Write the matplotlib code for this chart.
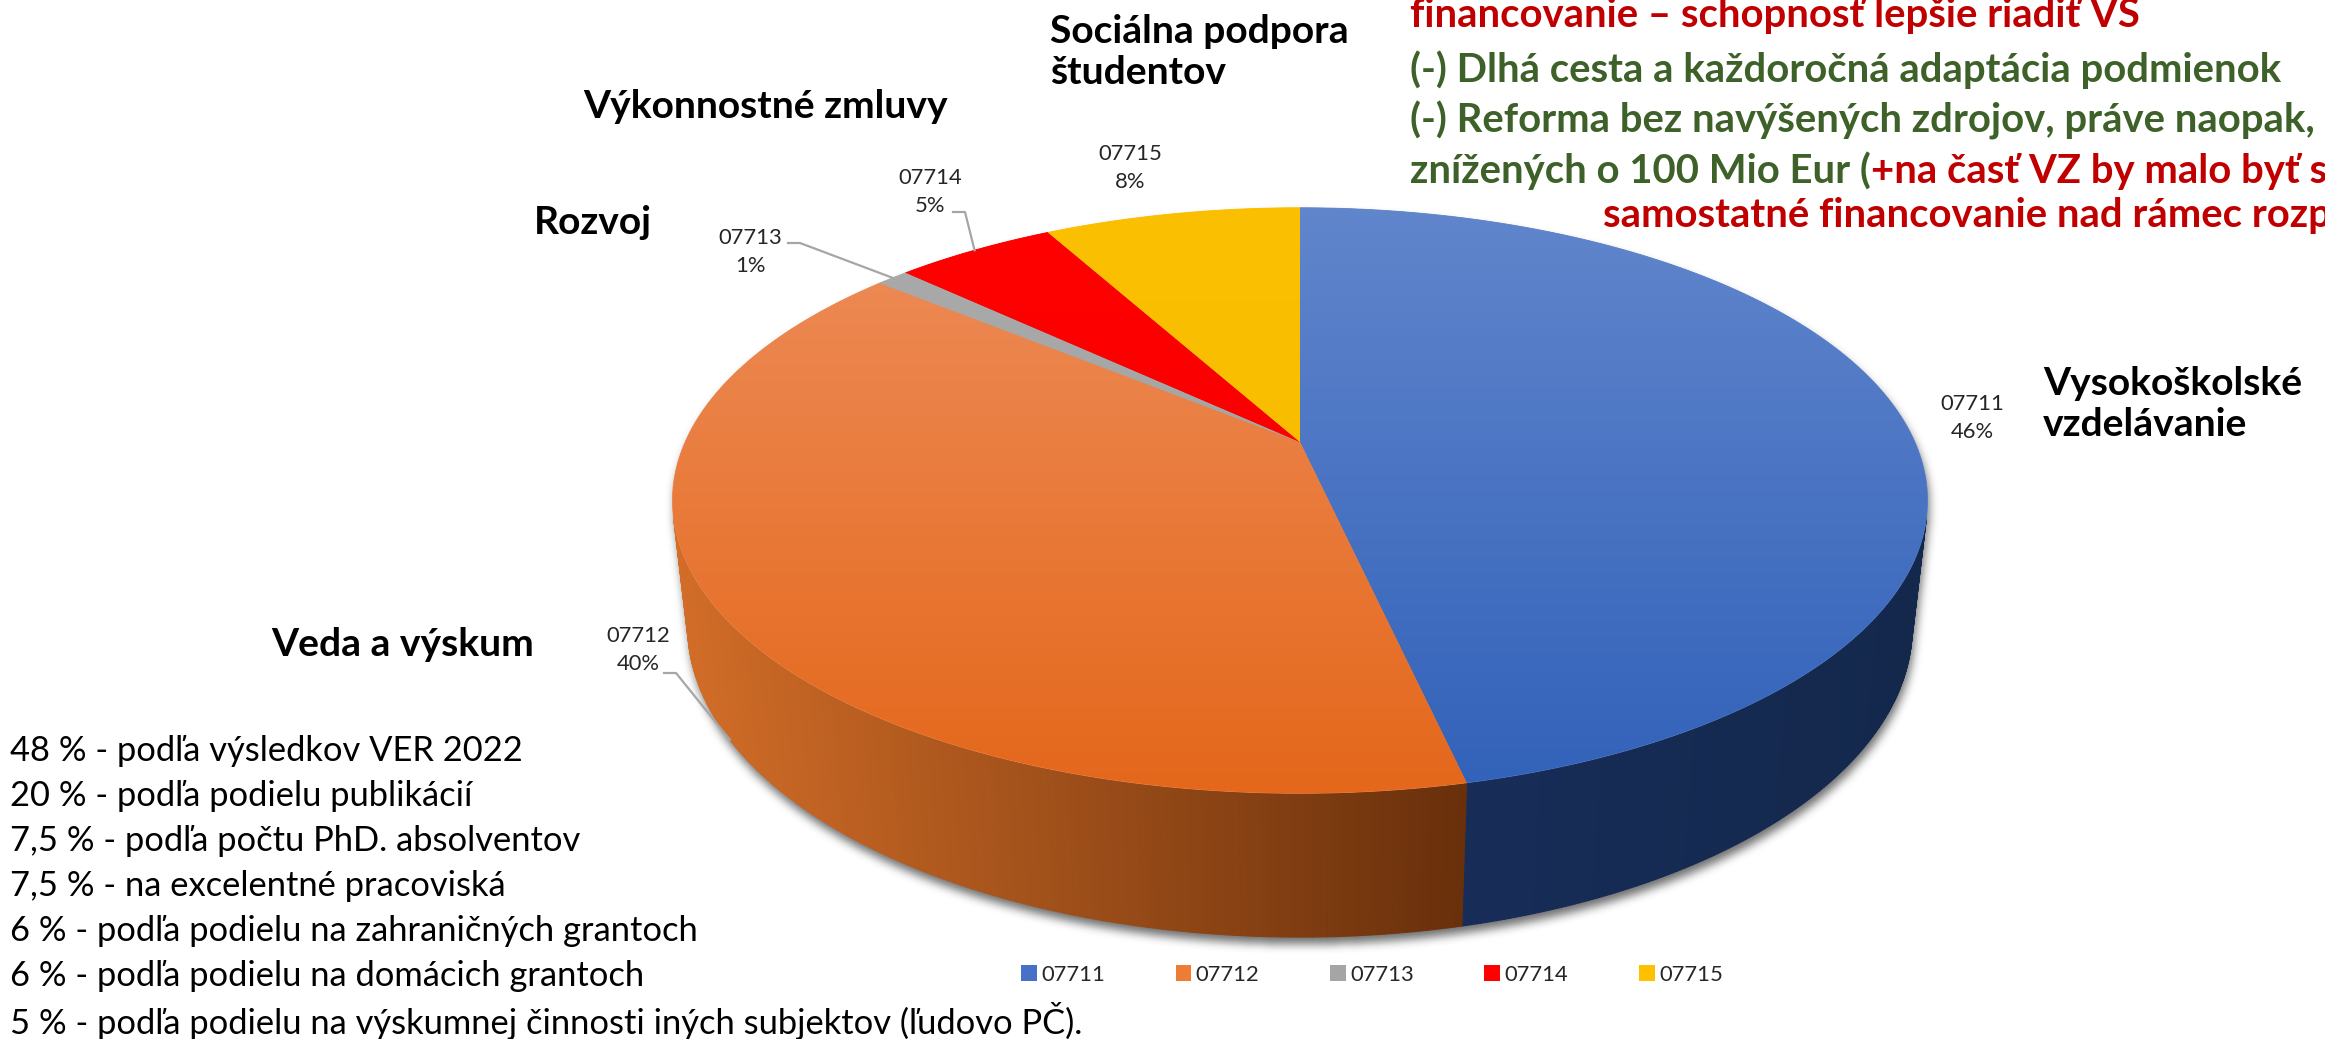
import numpy as np
import matplotlib
matplotlib.use("Agg")
import matplotlib.pyplot as plt
from matplotlib.patches import Polygon, Rectangle
from matplotlib.collections import PolyCollection
from matplotlib.colors import LinearSegmentedColormap, to_rgb
from matplotlib.path import Path

plt.rcParams['font.family'] = ['Lato', 'DejaVu Sans']

# ---- data ----
codes = ['07711', '07712', '07713', '07714', '07715']
shares = [46.5, 39.5, 1.0, 5.0, 8.0]  # percent, labels show rounded values
headings = ['Vysokoškolské\nvzdelávanie', 'Veda a výskum', 'Rozvoj',
            'Výkonnostné zmluvy', 'Sociálna podpora\nštudentov']
criteria = [
    '48 % - podľa výsledkov VER 2022',
    '20 % - podľa podielu publikácií',
    '7,5 % - podľa počtu PhD. absolventov',
    '7,5 % - na excelentné pracoviská',
    '6 % - podľa podielu na zahraničných grantoch',
    '6 % - podľa podielu na domácich grantoch',
    '5 % - podľa podielu na výskumnej činnosti iných subjektov (ľudovo PČ).',
]
note_lines = [
    [('financovanie – schopnosť lepšie riadiť VS', 'red')],
    [('(-) Dlhá cesta a každoročná adaptácia podmienok', 'green')],
    [('(-) Reforma bez navýšených zdrojov, práve naopak,', 'green')],
    [('znížených o 100 Mio Eur (', 'green'), ('+na časť VZ by malo byť so', 'red')],
    [('samostatné financovanie nad rámec rozp', 'red')],
]

# ---- style / layout (pixel coordinates) ----
W, H = 2325, 1039
PT = 0.72  # px -> pt at dpi 100
note_colors = {'red': '#c00000', 'green': '#3d6128'}
top_colors = [('#6186cc', '#3161b9'), ('#ee8e5c', '#e4671a'), ('#ababab', '#9c9c9c'),
              ('#ff0000', '#f40000'), ('#fbc000', '#f6ba00')]
side_colors = [('#172d58', '#14284c'), ('#d26d28', '#69300b'), ('#7a7a7a', '#6a6a6a'),
               ('#b00000', '#900000'), ('#b08600', '#907000')]
legend_colors = ['#4671c6', '#ef7c34', '#a5a5a5', '#ff0000', '#ffc000']
heading_pos = [(2043, 404), (271, 645), (534, 222), (583, 106), (1050, 52)]
label_pos = [(1972, 418), (638, 650), (750, 252), (930, 192), (1130, 168)]
leader_start = [None, (664, 673), (788, 243), (953, 212), None]

# perspective camera for the 3-D pie
CX, CY = 1300, 442
FOC, DIST = 2736, 4.45
ELEV = np.radians(27.2)
DEPTH = 0.232


def proj(X, Y, Z):
    v = Y * np.sin(ELEV) + Z * np.cos(ELEV)
    w = Y * np.cos(ELEV) - Z * np.sin(ELEV)
    return CX + FOC * X / (DIST + w), CY - FOC * v / (DIST + w)


def rim(t, z=0.0):
    return proj(np.cos(t), np.sin(t), z)


def blur(a, r, axis):
    a = np.moveaxis(a, axis, -1)
    p = np.pad(a, [(0, 0), (r + 1, r)], mode='edge')
    c = np.cumsum(p, axis=-1)
    out = (c[:, 2 * r + 1:] - c[:, :-2 * r - 1]) / (2 * r + 1)
    return np.moveaxis(out, -1, axis)


fig = plt.figure(figsize=(W / 100, H / 100), dpi=100)
ax = fig.add_axes([0, 0, 1, 1])

total = sum(shares)
ends = 90 - 360 * np.cumsum(shares) / total
starts = np.concatenate([[90], ends[:-1]])
t_start = np.radians(starts)
t_end = np.radians(ends)

# visible part of the side wall
a_vis = np.arcsin(1 / (DIST * np.cos(ELEV)))
vis_lo, vis_hi = -np.pi + a_vis, -a_vis

# shadow under the pie
ts_back = np.linspace(-a_vis, np.pi + a_vis, 300)
ts_front = np.linspace(-np.pi + a_vis, -a_vis, 300)
sx1, sy1 = rim(ts_back)
sx2, sy2 = rim(ts_front, -DEPTH)
sil = np.column_stack([np.r_[sx1, sx2], np.r_[sy1, sy2]])
x0, x1, y0, y1 = 560, 2080, 150, 1039
gx, gy = np.meshgrid(np.arange(x0, x1) + 0.5, np.arange(y0, y1) + 0.5)
shadow_path = Path(sil + np.array([2, 7]))
mask = shadow_path.contains_points(np.column_stack([gx.ravel(), gy.ravel()]))
mask = mask.reshape(gx.shape).astype(float)
for _ in range(3):
    mask = blur(mask, 4, 0)
    mask = blur(mask, 4, 1)
rgba = np.zeros(mask.shape + (4,))
rgba[..., :3] = 0.25
rgba[..., 3] = mask * 0.75
ax.imshow(rgba, extent=(x0, x1, y1, y0), zorder=1, interpolation='bilinear')

# side walls
for i in range(len(shares)):
    lo = max(t_end[i], vis_lo)
    hi = min(t_start[i], vis_hi)
    if hi <= lo:
        continue
    ts = np.linspace(lo, hi, 160)
    tx, ty = rim(ts)
    bx, by = rim(ts, -DEPTH)
    quads, cols = [], []
    c_left = np.array(to_rgb(side_colors[i][0]))
    c_right = np.array(to_rgb(side_colors[i][1]))
    xmin, xmax = min(tx.min(), bx.min()), max(tx.max(), bx.max())
    for j in range(len(ts) - 1):
        quads.append([(tx[j], ty[j]), (tx[j + 1], ty[j + 1]),
                      (bx[j + 1], by[j + 1]), (bx[j], by[j])])
        f = ((tx[j] + tx[j + 1]) / 2 - xmin) / (xmax - xmin)
        cols.append(c_left * (1 - f) + c_right * f)
    ax.add_collection(PolyCollection(quads, facecolors=cols, edgecolors=cols,
                                     linewidths=0.8, zorder=2))

# top face
grad = np.linspace(0, 1, 256).reshape(-1, 1)
for i in range(len(shares)):
    ts = np.linspace(t_start[i], t_end[i], 200)
    tx, ty = rim(ts)
    verts = np.column_stack([np.r_[CX, tx], np.r_[CY, ty]])
    base = Polygon(verts, closed=True, facecolor=top_colors[i][0],
                   edgecolor=top_colors[i][0], linewidth=0.6, zorder=3)
    ax.add_patch(base)
    cmap = LinearSegmentedColormap.from_list('g%d' % i, top_colors[i])
    im = ax.imshow(grad, cmap=cmap, extent=(640, 1960, 800, 200), aspect='auto',
                   interpolation='bilinear', zorder=4)
    im.set_clip_path(base)

# data labels and leader lines
for i in range(len(shares)):
    lx, ly = label_pos[i]
    ax.text(lx, ly, '%s\n%.0f%%' % (codes[i], shares[i]), ha='center', va='center',
            multialignment='center', fontsize=22 * PT, linespacing=1.45,
            color='#262626', zorder=6)
    if leader_start[i] is not None:
        sx, sy = leader_start[i]
        mid = (t_start[i] + t_end[i]) / 2
        z = -DEPTH if np.sin(mid) < -np.sin(a_vis) else 0.0
        ex, ey = rim(mid, z)
        ax.plot([sx, sx + 12, ex], [sy, sy, ey], color='#a6a6a6', lw=1.6, zorder=6)

# category headings
for (hx, hy), txt in zip(heading_pos, headings):
    ax.text(hx, hy, txt, ha='left', va='center', fontsize=39 * PT,
            fontweight='bold', linespacing=1.22, color='black', zorder=6)

# criteria list (bottom left)
for k, line in enumerate(criteria):
    ax.text(10, 751 + 45 * k, line, ha='left', va='center',
            fontsize=34.5 * PT, color='black', zorder=6)

# notes (top right)
note_y = [15, 70, 120, 171, 216]
note_x = [1410, 1410, 1410, 1410, 1603]
for k, segs in enumerate(note_lines):
    prev = None
    for txt, col in segs:
        if prev is None:
            prev = ax.text(note_x[k], note_y[k], txt, ha='left', va='center',
                           fontsize=40 * PT, fontweight='bold',
                           color=note_colors[col], zorder=6)
        else:
            prev = ax.annotate(txt, xy=(1, 0), xycoords=prev, ha='left', va='bottom',
                               fontsize=40 * PT, fontweight='bold',
                               color=note_colors[col], zorder=6)

# legend
handles = [Rectangle((0, 0), 1, 1, facecolor=c, edgecolor='none') for c in legend_colors]
ax.legend(handles, codes, loc='center', bbox_to_anchor=(1372 / W, 1 - 975 / H),
          ncol=5, frameon=False, fontsize=22 * PT, handlelength=0.72,
          handleheight=0.72, handletextpad=0.2, columnspacing=3.2,
          labelcolor='#262626')

ax.set_xlim(0, W)
ax.set_ylim(H, 0)
ax.axis('off')
fig.savefig('out.png', dpi=100)
